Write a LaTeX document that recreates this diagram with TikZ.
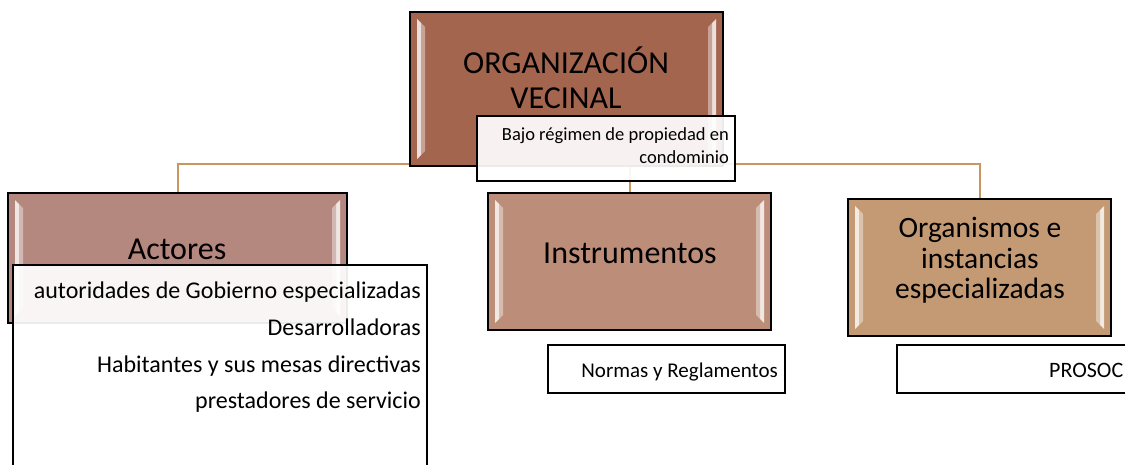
\documentclass[tikz,border=0pt]{standalone}
\usepackage{fontspec}
\setmainfont{Carlito}
\usetikzlibrary{calc,backgrounds}
\definecolor{cTop}{HTML}{A3654E}
\definecolor{cAct}{HTML}{B4877F}
\definecolor{cIns}{HTML}{BC8D79}
\definecolor{cOrg}{HTML}{C39A73}
\definecolor{cLine}{HTML}{C8965F}
\begin{document}
\begin{tikzpicture}[x=1pt,y=-1pt,
  bevelbox/.style={draw=black, line width=1.4pt, fill=#1, anchor=north west, inner sep=0pt, outer sep=0pt,
    path picture={
      \coordinate (pnw) at (path picture bounding box.north west);
      \coordinate (pse) at (path picture bounding box.south east);
      \coordinate (pne) at (pse |- pnw);
      \coordinate (psw) at (pnw |- pse);
      \fill[white!80!#1]
        ($(pnw)+(7,7)$) -- ($(pnw)+(11,11)$) -- ($(psw)+(11,-11)$) -- ($(psw)+(7,-7)$) -- cycle;
      \fill[white!40!#1]
        ($(pnw)+(11,11)$) -- ($(pnw)+(15,15)$) -- ($(psw)+(15,-15)$) -- ($(psw)+(11,-11)$) -- cycle;
      \fill[white!80!#1]
        ($(pne)+(-7,7)$) -- ($(pne)+(-11,11)$) -- ($(pse)+(-11,-11)$) -- ($(pse)+(-7,-7)$) -- cycle;
      \fill[white!40!#1]
        ($(pne)+(-11,11)$) -- ($(pne)+(-15,15)$) -- ($(pse)+(-15,-15)$) -- ($(pse)+(-11,-11)$) -- cycle;
    }},
  tbox/.style={draw=black, line width=1.4pt, fill=white, fill opacity=0.92, draw opacity=1, anchor=north west, inner sep=0pt, outer sep=0pt},
  conn/.style={draw=cLine, line width=2pt},
  txt/.style={inner sep=0pt, text=black},
  big/.style={txt, font=\fontsize{32}{36}\selectfont},
  mid/.style={txt, font=\fontsize{29.5}{33}\selectfont},
  lst/.style={txt, font=\fontsize{24}{28}\selectfont},
  sml/.style={txt, font=\fontsize{21}{25}\selectfont},
  prs/.style={txt, font=\fontsize{22}{26}\selectfont},
  tiny/.style={txt, font=\fontsize{18.5}{22}\selectfont}
]
\useasboundingbox (0,0) rectangle (1125,464);
\clip (0,0) rectangle (1125,464);

% main box
\node[bevelbox=cTop, minimum width=313, minimum height=154] (top) at (410,12) {};
\node[big, anchor=base] (topA) at (566,73) {ORGANIZACIÓN};
\node[big, anchor=base] (topB) at (566,108) {VECINAL};

% second-level boxes
\node[bevelbox=cAct, minimum width=339, minimum height=130] (actores) at (8,193) {};
\node[bevelbox=cIns, minimum width=283, minimum height=137] (instr) at (488,193) {};
\node[bevelbox=cOrg, minimum width=263, minimum height=137] (org) at (848,199) {};

\node[big, anchor=base] (actT) at (177,259) {Actores};
\node[big, anchor=base] (insT) at (630,263) {Instrumentos};
\node[mid, anchor=base] (orgA) at (980,237) {Organismos e};
\node[mid, anchor=base] (orgB) at (980,268) {instancias};
\node[mid, anchor=base] (orgC) at (980,298) {especializadas};

% connectors behind the boxes
\coordinate (hub) at (566,164);
\begin{scope}[on background layer]
  \fill[white] (0,0) rectangle (1125,464);
  \draw[conn] (hub) -| (actores.north);
  \draw[conn] (hub) -| (instr.north);
  \draw[conn] (hub) -| (org.north);
\end{scope}

% text boxes
\node[tbox, minimum width=258, minimum height=65] (bajo) at (477,116) {};
\node[tiny, anchor=base east] (bajoA) at (729,140) {Bajo régimen de propiedad en};
\node[tiny, anchor=base east] (bajoB) at (729,163) {condominio};

\node[tbox, minimum width=414, minimum height=215] (actlist) at (13,265) {};
\node[lst, anchor=base east] (l1) at (421,298) {autoridades de Gobierno especializadas};
\node[lst, anchor=base east] (l2) at (421,335) {Desarrolladoras};
\node[lst, anchor=base east] (l3) at (421,372) {Habitantes y sus mesas directivas};
\node[lst, anchor=base east] (l4) at (421,408) {prestadores de servicio};

\node[tbox, minimum width=237, minimum height=48] (normas) at (548,345) {};
\node[sml, anchor=base east] (normT) at (778,377) {Normas y Reglamentos};

\node[tbox, minimum width=250, minimum height=48] (prosoc) at (897,345) {};
\node[prs, anchor=base west] (prosT) at (1049,377) {PROSOC};
\end{tikzpicture}
\end{document}
